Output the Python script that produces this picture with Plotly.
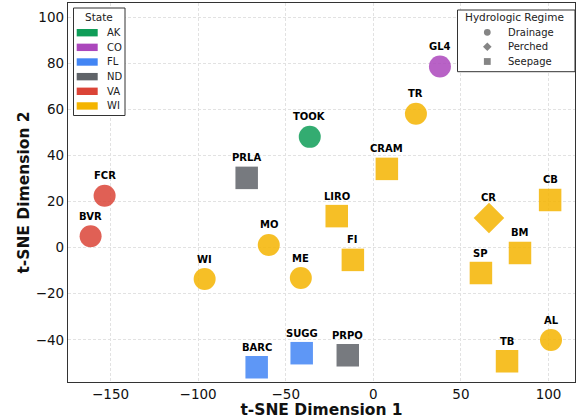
import plotly.graph_objects as go

# t-SNE embedding of lake sites
sites = ["GL4", "TR", "TOOK", "CRAM", "PRLA", "CB", "FCR", "CR", "LIRO", "BVR", "MO",
         "BM", "FI", "SP", "WI", "ME", "AL", "SUGG", "PRPO", "BARC", "TB"]
dim1 = [38.0, 24.3, -36.3, 7.7, -72.3, 100.9, -153.4, 66.0, -20.9, -161.4, -59.7,
        83.7, -11.7, 61.4, -96.3, -41.4, 101.4, -40.9, -14.6, -66.6, 76.3]
dim2 = [78.6, 58.1, 48.1, 34.2, 30.3, 20.7, 22.5, 12.9, 13.7, 5.0, 1.2,
        -2.3, -5.3, -11.0, -13.6, -13.2, -40.1, -45.8, -46.7, -51.9, -49.3]
states = ["CO", "WI", "AK", "WI", "ND", "WI", "VA", "WI", "WI", "VA", "WI",
          "WI", "WI", "WI", "WI", "WI", "WI", "FL", "ND", "FL", "WI"]
regimes = ["Drainage", "Drainage", "Drainage", "Seepage", "Seepage", "Seepage", "Drainage",
           "Perched", "Seepage", "Drainage", "Drainage", "Seepage", "Seepage", "Seepage",
           "Drainage", "Drainage", "Drainage", "Seepage", "Seepage", "Seepage", "Seepage"]

state_names = ["AK", "CO", "FL", "ND", "VA", "WI"]
state_colors = {"AK": "#0f9d58", "CO": "#ab47bc", "FL": "#4285f4",
                "ND": "#5f6368", "VA": "#db4437", "WI": "#f4b400"}
regime_names = ["Drainage", "Perched", "Seepage"]
regime_symbols = {"Drainage": "circle", "Perched": "diamond", "Seepage": "square"}
regime_sizes = {"Drainage": 22, "Perched": 23.5, "Seepage": 22.5}

W, H = 579, 419
ML, MR, MT, MB = 68, 4, 3, 37
PW, PH = W - ML - MR, H - MT - MB

fig = go.Figure()

for regime in regime_names:
    idx = [i for i, r in enumerate(regimes) if r == regime]
    fig.add_trace(go.Scatter(
        x=[dim1[i] for i in idx],
        y=[dim2[i] for i in idx],
        mode="markers",
        marker=dict(symbol=regime_symbols[regime], size=regime_sizes[regime],
                    color=[state_colors[states[i]] for i in idx],
                    opacity=0.85, line=dict(width=0)),
        showlegend=False,
        hoverinfo="skip",
    ))

annotations = []
for name, x, y in zip(sites, dim1, dim2):
    annotations.append(dict(
        x=x, y=y, xref="x", yref="y", text=f"<b>{name}</b>", showarrow=False,
        xanchor="center", yanchor="middle", yshift=20,
        font=dict(family="DejaVu Sans", size=10, color="black"),
    ))

# Page-pixel helpers for the hand-drawn legends (paper coords span the plot area)
def px(x):
    return (x - ML) / PW
def py(y):
    return 1 - (y - MT) / PH

legend_font = dict(family="DejaVu Sans", size=10, color="#222")
legend_title_font = dict(family="DejaVu Sans", size=10.5, color="#222")
shapes = []

# State legend
shapes.append(dict(type="rect", xref="paper", yref="paper",
                   x0=px(73.5), x1=px(125), y0=py(115.5), y1=py(8),
                   line=dict(color="#333", width=1), fillcolor="white", layer="above"))
annotations.append(dict(xref="paper", yref="paper", x=px(99.3), y=py(17.3),
                        text="State", showarrow=False, xanchor="center", yanchor="middle",
                        font=legend_title_font))
for k, st in enumerate(state_names):
    yc = 32.7 + k * 14.65
    shapes.append(dict(type="rect", xref="paper", yref="paper",
                       x0=px(76.7), x1=px(97.7), y0=py(yc + 3.7), y1=py(yc - 3.7),
                       line=dict(width=0), fillcolor=state_colors[st], layer="above"))
    annotations.append(dict(xref="paper", yref="paper", x=px(104.5), y=py(yc),
                            text=st, showarrow=False, xanchor="left", yanchor="middle",
                            font=legend_font))

# Hydrologic regime legend
shapes.append(dict(type="rect", xref="paper", yref="paper",
                   x0=px(457.5), x1=px(575), y0=py(71.7), y1=py(10),
                   line=dict(color="#333", width=1), fillcolor="white", layer="above"))
annotations.append(dict(xref="paper", yref="paper", x=px(514.5), y=py(17),
                        text="Hydrologic Regime", showarrow=False, xanchor="center",
                        yanchor="middle", font=legend_title_font))
leg_y = [32.3, 46.8, 61.5]
mx = 487.3
key_color = "#858585"
for k, rg in enumerate(regime_names):
    yc = leg_y[k]
    annotations.append(dict(xref="paper", yref="paper", x=px(505.5), y=py(yc),
                            text=rg, showarrow=False, xanchor="left", yanchor="middle",
                            font=legend_font))
    if rg == "Drainage":
        r = 3.4
        shapes.append(dict(type="circle", xref="paper", yref="paper",
                           x0=px(mx - r), x1=px(mx + r), y0=py(yc + r), y1=py(yc - r),
                           line=dict(width=0), fillcolor=key_color, layer="above"))
    elif rg == "Perched":
        r = 4.3
        path = (f"M {px(mx - r)} {py(yc)} L {px(mx)} {py(yc - r)} "
                f"L {px(mx + r)} {py(yc)} L {px(mx)} {py(yc + r)} Z")
        shapes.append(dict(type="path", xref="paper", yref="paper", path=path,
                           line=dict(width=0), fillcolor=key_color, layer="above"))
    else:
        r = 3.4
        shapes.append(dict(type="rect", xref="paper", yref="paper",
                           x0=px(mx - r), x1=px(mx + r), y0=py(yc + r), y1=py(yc - r),
                           line=dict(width=0), fillcolor=key_color, layer="above"))

axis_style = dict(showgrid=True, gridcolor="#e2e2e2", griddash="3px,2px", gridwidth=1,
                  zeroline=False, showline=True, linecolor="#333", linewidth=1.3,
                  mirror=True, ticks="",
                  tickfont=dict(family="DejaVu Sans", size=13.5, color="#111"))

fig.update_layout(
    width=W, height=H,
    margin=dict(l=ML, r=MR, t=MT, b=MB),
    paper_bgcolor="white", plot_bgcolor="white",
    showlegend=False,
    xaxis=dict(range=[-174.3, 115.1], tickvals=[-150, -100, -50, 0, 50, 100],
               title=dict(text="<b>t-SNE Dimension 1</b>", standoff=3,
                          font=dict(family="DejaVu Sans", size=15.5, color="#111")),
               **axis_style),
    yaxis=dict(range=[-58.3, 106.2], tickvals=[-40, -20, 0, 20, 40, 60, 80, 100],
               title=dict(text="<b>t-SNE Dimension 2</b>", standoff=2,
                          font=dict(family="DejaVu Sans", size=15.5, color="#111")),
               **axis_style),
    shapes=shapes,
    annotations=annotations,
)

fig.write_html("out.html")
